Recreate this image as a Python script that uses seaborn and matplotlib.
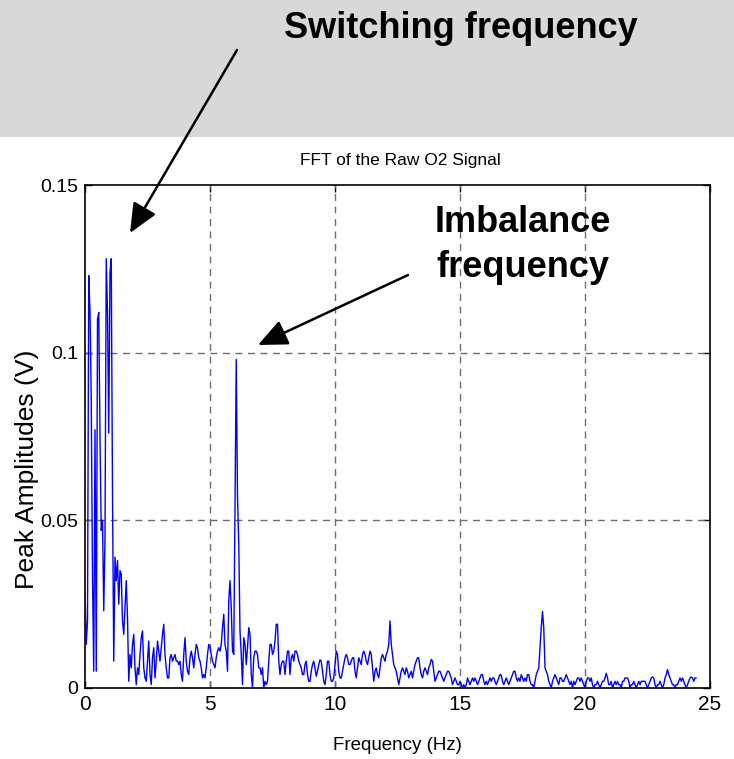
import numpy as np
import pandas as pd
import seaborn as sns
import matplotlib
matplotlib.use("Agg")
import matplotlib.pyplot as plt
from matplotlib.patches import Rectangle, FancyArrowPatch

# FFT bin spacing (Hz) of the raw O2 sensor spectrum
freq_step = 0.05

# Peak amplitude (V) per bin, one row per 1 Hz
amplitude = [
    0.029, 0.013, 0.020, 0.123, 0.112, 0.086, 0.033, 0.005, 0.077, 0.005, 0.110, 0.112, 0.075, 0.047, 0.050, 0.023, 0.045, 0.128, 0.112, 0.076,
    0.124, 0.128, 0.058, 0.008, 0.039, 0.032, 0.038, 0.025, 0.035, 0.034, 0.020, 0.016, 0.024, 0.032, 0.021, 0.002, 0.010, 0.006, 0.013, 0.016,
    0.006, 0.001, 0.006, 0.004, 0.010, 0.015, 0.017, 0.006, 0.003, 0.002, 0.008, 0.014, 0.004, 0.001, 0.009, 0.012, 0.003, 0.008, 0.014, 0.011,
    0.008, 0.012, 0.016, 0.019, 0.010, 0.006, 0.003, 0.003, 0.009, 0.010, 0.008, 0.009, 0.010, 0.008, 0.008, 0.007, 0.008, 0.004, 0.002, 0.010,
    0.015, 0.008, 0.005, 0.004, 0.009, 0.011, 0.009, 0.006, 0.010, 0.013, 0.012, 0.009, 0.008, 0.006, 0.003, 0.004, 0.003, 0.006, 0.010, 0.013,
    0.012, 0.010, 0.008, 0.007, 0.006, 0.009, 0.011, 0.012, 0.011, 0.013, 0.018, 0.022, 0.013, 0.011, 0.005, 0.026, 0.032, 0.024, 0.011, 0.010,
    0.056, 0.098, 0.057, 0.043, 0.017, 0.010, 0.001, 0.015, 0.013, 0.007, 0.012, 0.018, 0.016, 0.004, 0.000, 0.009, 0.011, 0.011, 0.010, 0.006,
    0.006, 0.004, 0.006, 0.000, 0.002, 0.001, 0.002, 0.008, 0.013, 0.013, 0.010, 0.011, 0.014, 0.019, 0.019, 0.008, 0.004, 0.007, 0.008, 0.008,
    0.004, 0.008, 0.011, 0.011, 0.004, 0.009, 0.010, 0.008, 0.011, 0.011, 0.010, 0.008, 0.007, 0.006, 0.004, 0.004, 0.007, 0.008, 0.004, 0.002,
    0.002, 0.005, 0.007, 0.008, 0.006, 0.0035, 0.005, 0.007, 0.0084, 0.008, 0.005, 0.002, 0.001, 0.004, 0.008, 0.008, 0.004, 0.002, 0.002, 0.003,
    0.007, 0.011, 0.010, 0.005, 0.003, 0.003, 0.005, 0.007, 0.009, 0.010, 0.009, 0.007, 0.007, 0.008, 0.009, 0.009, 0.005, 0.003, 0.006, 0.009,
    0.008, 0.007, 0.010, 0.011, 0.010, 0.008, 0.007, 0.009, 0.011, 0.010, 0.006, 0.002, 0.005, 0.006, 0.004, 0.003, 0.006, 0.009, 0.010, 0.009,
    0.008, 0.010, 0.011, 0.013, 0.020, 0.013, 0.010, 0.007, 0.006, 0.005, 0.003, 0.001, 0.003, 0.005, 0.006, 0.005, 0.004, 0.006, 0.005, 0.003,
    0.004, 0.005, 0.003, 0.005, 0.007, 0.008, 0.009, 0.009, 0.006, 0.004, 0.003, 0.005, 0.006, 0.005, 0.004, 0.006, 0.007, 0.0085, 0.008, 0.005,
    0.002, 0.003, 0.004, 0.005, 0.005, 0.004, 0.003, 0.002, 0.003, 0.004, 0.005, 0.005, 0.004, 0.003, 0.001, 0.002, 0.003, 0.002, 0.001, 0.001,
    0.002, 0.001, 0.000, 0.001, 0.000, 0.001, 0.003, 0.002, 0.001, 0.002, 0.003, 0.002, 0.003, 0.002, 0.001, 0.002, 0.003, 0.004, 0.004, 0.002,
    0.001, 0.002, 0.001, 0.002, 0.003, 0.002, 0.003, 0.003, 0.002, 0.001, 0.002, 0.003, 0.004, 0.0038, 0.002, 0.001, 0.002, 0.003, 0.002, 0.001,
    0.002, 0.003, 0.004, 0.005, 0.005, 0.003, 0.002, 0.003, 0.002, 0.004, 0.003, 0.002, 0.003, 0.002, 0.004, 0.004, 0.002, 0.001, 0.001, 0.000,
    0.002, 0.004, 0.005, 0.006, 0.012, 0.018, 0.0228, 0.018, 0.006, 0.005, 0.004, 0.002, 0.001, 0.000, 0.002, 0.003, 0.004, 0.003, 0.002, 0.001,
    0.003, 0.003, 0.002, 0.002, 0.003, 0.004, 0.003, 0.002, 0.001, 0.002, 0.000, 0.002, 0.001, 0.002, 0.003, 0.003, 0.002, 0.003, 0.002, 0.001,
    0.000, 0.002, 0.003, 0.003, 0.002, 0.003, 0.001, 0.000, 0.001, 0.001, 0.002, 0.001, 0.000, 0.001, 0.002, 0.002, 0.003, 0.0044, 0.003, 0.001,
    0.001, 0.002, 0.000, 0.001, 0.002, 0.001, 0.002, 0.001, 0.001, 0.000, 0.002, 0.002, 0.003, 0.003, 0.003, 0.002, 0.000, 0.001, 0.001, 0.002,
    0.001, 0.000, 0.001, 0.002, 0.001, 0.002, 0.002, 0.002, 0.002, 0.001, 0.000, 0.001, 0.002, 0.003, 0.0033, 0.003, 0.001, 0.000, 0.001, 0.001,
    0.002, 0.001, 0.000, 0.001, 0.003, 0.004, 0.0055, 0.004, 0.003, 0.002, 0.001, 0.001, 0.000, 0.001, 0.001, 0.002, 0.003, 0.002, 0.003, 0.002,
    0.001, 0.000, 0.001, 0.002, 0.003, 0.0033, 0.003, 0.002, 0.003, 0.003,
]
frequency = np.arange(len(amplitude)) * freq_step

x_ticks = [0, 5, 10, 15, 20, 25]
x_tick_labels = ["0", "5", "10", "15", "20", "25"]
y_ticks = [0, 0.05, 0.1, 0.15]
y_tick_labels = ["0", "0.05", "0.1", "0.15"]

title_text = "FFT of the Raw O2 Signal"
x_label = "Frequency (Hz)"
y_label = "Peak Amplitudes (V)"
note_switching = "Switching frequency"
note_imbalance = "Imbalance\nfrequency"

sns.set_style("white")
plt.rcParams["font.family"] = ["Liberation Sans", "DejaVu Sans"]
for key in ("text.color", "axes.labelcolor", "xtick.color", "ytick.color"):
    plt.rcParams[key] = "black"

W, H = 734, 759
fig = plt.figure(figsize=(W / 100, H / 100), dpi=100)


def fx(px):
    return px / W


def fy(py):
    return (H - py) / H


# grey header band
fig.patches.append(Rectangle((0, fy(137)), 1, 137 / H,
                             transform=fig.transFigure, facecolor="#d9d7d8",
                             edgecolor="none", zorder=-1))

ax = fig.add_axes([fx(85), fy(688), 625 / W, 503 / H])
df = pd.DataFrame({"Frequency": frequency, "Amplitude": amplitude})
sns.lineplot(data=df, x="Frequency", y="Amplitude", ax=ax,
             color="#0000ff", linewidth=1.0, zorder=3)

ax.set_xlim(0, 25)
ax.set_ylim(0, 0.15)
ax.set_xticks(x_ticks)
ax.set_xticklabels(x_tick_labels, fontsize=15)
ax.set_yticks(y_ticks)
ax.set_yticklabels(y_tick_labels, fontsize=14)
ax.tick_params(direction="in", length=5, width=1, top=True, right=True,
               bottom=True, left=True, color="black", pad=5)

for v in x_ticks[1:-1]:
    ax.axvline(v, color="#6e6e6e", linestyle=(0, (5, 4)), linewidth=1, zorder=1)
for v in y_ticks[1:-1]:
    ax.axhline(v, color="#6e6e6e", linestyle=(0, (5, 4)), linewidth=1, zorder=1)

for s in ax.spines.values():
    s.set_visible(True)
    s.set_color("black")
    s.set_linewidth(1.2)

ax.set_xlabel("")
ax.set_ylabel("")
fig.text(fx(400), fy(160), title_text, ha="center", va="center", fontsize=12.5)
fig.text(fx(397), fy(745), x_label, ha="center", va="center", fontsize=13.5)
fig.text(fx(27), fy(469), y_label, ha="center", va="center", fontsize=19,
         rotation=90)

# callouts with arrows, placed in figure pixels
fig.text(fx(461), fy(28), note_switching, ha="center", va="center",
         fontsize=26, fontweight="bold")
fig.text(fx(523), fy(245), note_imbalance, ha="center", va="center",
         fontsize=26, fontweight="bold", linespacing=1.35)


def add_arrow(tail, head):
    arrow = FancyArrowPatch((fx(tail[0]), fy(tail[1])), (fx(head[0]), fy(head[1])),
                            transform=fig.transFigure,
                            arrowstyle="-|>,head_length=0.9,head_width=0.4",
                            color="black", lw=1.8, mutation_scale=20,
                            shrinkA=0, shrinkB=0, zorder=10)
    fig.add_artist(arrow)


add_arrow((237, 50), (130, 233))
add_arrow((408, 275), (258, 345))

fig.savefig("out.png", dpi=100)
